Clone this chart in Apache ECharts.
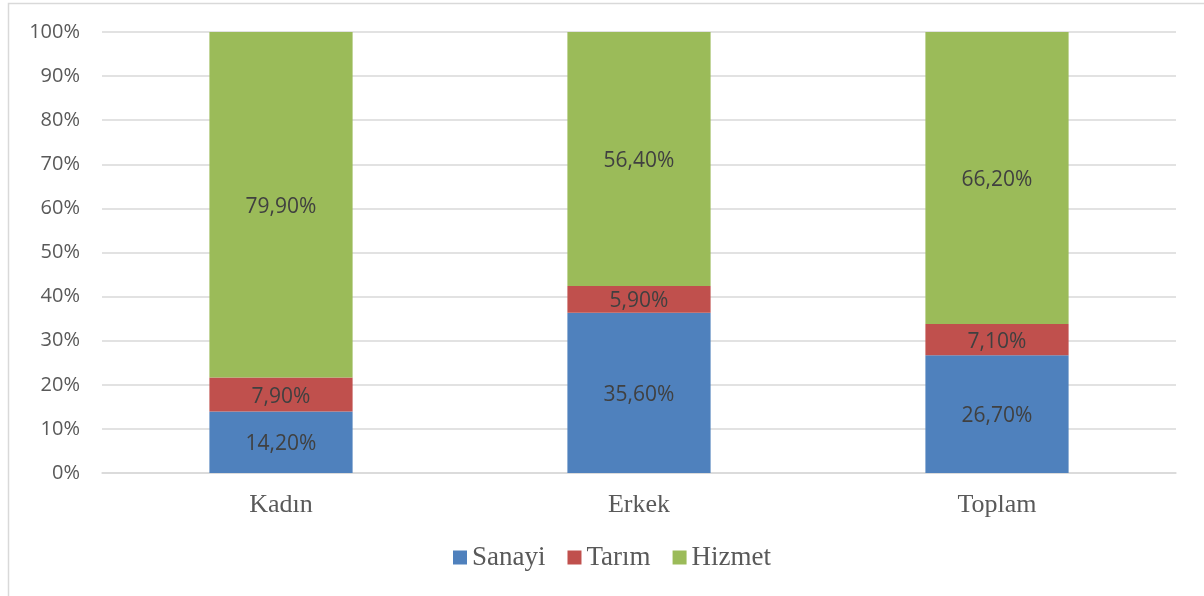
<!DOCTYPE html>
<html>
<head>
<meta charset="utf-8">
<script src="https://cdn.jsdelivr.net/npm/echarts@6/dist/echarts.min.js"></script>
<style>
  html, body { margin: 0; padding: 0; background: #fff; }
  #chart { width: 1204px; height: 596px; }
</style>
</head>
<body>
<div id="chart"></div>
<script>
// data
const categories = ['Kadın', 'Erkek', 'Toplam']
const sanayi = [14.2, 35.6, 26.7]
const tarim = [7.9, 5.9, 7.1]
const hizmet = [79.9, 56.4, 66.2]
const seriesNames = ['Sanayi', 'Tarım', 'Hizmet']

// 100% stacked: share of each value in the column total
const totals = categories.map((c, i) => sanayi[i] + tarim[i] + hizmet[i])
const share = (arr) => arr.map((v, i) => ({ value: v / totals[i] * 100, raw: v }))

const fmt = (p) => p.data.raw.toFixed(2).replace('.', ',') + '%'

const chart = echarts.init(document.getElementById('chart'))

const labelStyle = {
  show: true,
  position: 'inside',
  offset: [0, 2],
  formatter: fmt,
  color: '#404040',
  fontSize: 21,
  fontFamily: 'Open Sans'
}

const option = {
  animation: false,
  graphic: [{
    type: 'rect',
    shape: { x: 8.5, y: 3.5, width: 1300, height: 700 },
    style: { fill: 'none', stroke: '#d9d9d9', lineWidth: 1.5 },
    silent: true
  }],
  legend: {
    data: seriesNames,
    bottom: 20,
    left: 448,
    itemWidth: 14,
    itemHeight: 14,
    itemGap: 22,
    icon: 'rect',
    textStyle: { fontFamily: 'Liberation Serif', fontSize: 27, color: '#595959' }
  },
  grid: {
    left: 102,
    right: 28,
    top: 32,
    bottom: 123
  },
  xAxis: {
    type: 'category',
    data: categories,
    axisTick: { show: false },
    axisLine: { lineStyle: { color: '#d9d9d9', width: 1.5 } },
    axisLabel: {
      margin: 19,
      fontFamily: 'Liberation Serif',
      fontSize: 26,
      color: '#595959'
    }
  },
  yAxis: {
    type: 'value',
    min: 0,
    max: 100,
    interval: 10,
    axisLine: { show: false },
    axisTick: { show: false },
    axisLabel: {
      formatter: '{value}%',
      margin: 22,
      fontFamily: 'Open Sans',
      fontSize: 20,
      color: '#595959'
    },
    splitLine: { lineStyle: { color: '#d9d9d9', width: 1.5 } }
  },
  series: [
    { name: 'Sanayi', type: 'bar', stack: 'all', barWidth: '40%', data: share(sanayi), itemStyle: { color: '#4F81BD' }, label: labelStyle },
    { name: 'Tarım', type: 'bar', stack: 'all', data: share(tarim), itemStyle: { color: '#C0504D' }, label: labelStyle },
    { name: 'Hizmet', type: 'bar', stack: 'all', data: share(hizmet), itemStyle: { color: '#9BBB59' }, label: labelStyle }
  ]
}

chart.setOption(option)
</script>
</body>
</html>
